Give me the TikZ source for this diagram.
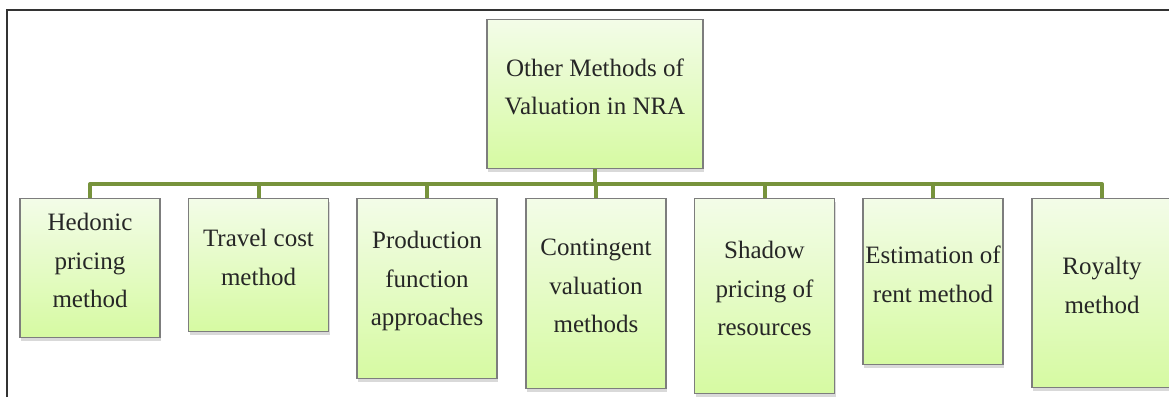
\documentclass[tikz,border=0pt]{standalone}
\usepackage{fontspec}
\setmainfont{Liberation Serif}
\usetikzlibrary{shadows}
\definecolor{linkgreen}{RGB}{119,147,60}
\definecolor{boxtop}{RGB}{243,252,232}
\definecolor{boxbot}{RGB}{214,250,162}
\definecolor{boxline}{RGB}{125,125,125}
\begin{document}
\begin{tikzpicture}[x=0.5pt,y=-0.5pt,
		methodbox/.style={draw=boxline, line width=0.6pt, top color=boxtop, bottom color=boxbot,
			minimum width=70pt, inner sep=0pt, anchor=north,
			drop shadow={shadow xshift=0.6pt, shadow yshift=-1.6pt, opacity=0.3}},
		methodtext/.style={align=center, font=\rmfamily\fontsize{12.5}{19.25}\selectfont, text=black!85},
		link/.style={draw=linkgreen, line width=2pt, line join=round}]
	\clip (0,0) rectangle (1169,397);
	% frame
	\draw[black!80, line width=0.7pt] (7,397) -- (7,10) -- (1169,10);
	% root box
	\node[methodbox, minimum width=108pt, minimum height=74.5pt] (root) at (595,19) {};
	\node[methodtext] at ([yshift=3.5pt]root.center) {Other Methods of\\Valuation in NRA};
	% method boxes
	\foreach \n/\x/\h/\t in {hed/90/139/{Hedonic\\pricing\\method},
		trav/258.5/133/{Travel cost\\method},
		prod/427/180/{Production\\function\\approaches},
		cont/596/190/{Contingent\\valuation\\methods},
		shad/764.5/195/{Shadow\\pricing of\\resources},
		rent/933/166/{Estimation of\\rent method},
		roy/1102/189/{Royalty\\method}}
	{
		\draw[link] (root.south) -- ++(0,15) -| (\x,198);
		\node[methodbox, minimum height=\h*0.5pt] (\n) at (\x,198) {};
		\node[methodtext] at ([yshift=3.75pt]\n.center) {\t};
	}
\end{tikzpicture}
\end{document}
